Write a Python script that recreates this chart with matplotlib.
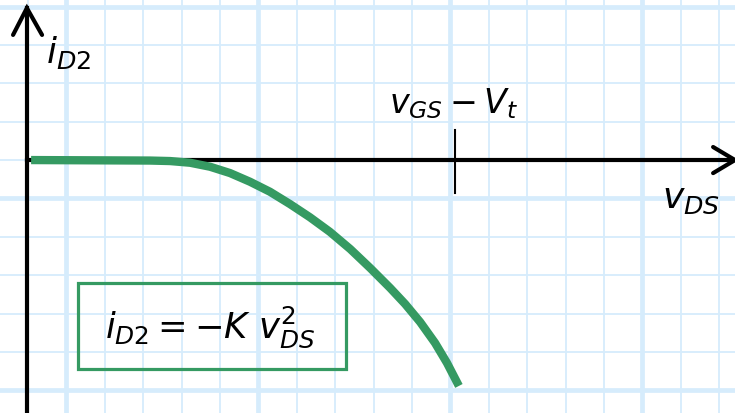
import matplotlib.pyplot as plt
import numpy as np

plt.rcParams['mathtext.fontset'] = 'dejavusans'

# curve, in grid cells (origin at the axes crossing)
v_ds = [0.08, 3.18, 3.70, 4.22, 4.74, 5.26, 5.78, 6.30, 6.82, 7.34,
        7.86, 8.39, 8.91, 9.43, 9.82, 10.21, 10.60, 10.91, 11.22]
i_d2 = [0.0, -0.013, -0.026, -0.070, -0.174, -0.339, -0.565, -0.826,
        -1.146, -1.490, -1.870, -2.318, -2.813, -3.333, -3.750, -4.219,
        -4.766, -5.286, -5.885]

v_knee = 11.12  # marked value vGS - Vt on the axis

green = '#359a62'
grid_col = '#d6ecfc'

fig = plt.figure(figsize=(7.35, 4.13), dpi=100)
ax = fig.add_axes([0, 0, 1, 1])
ax.set_xlim(-0.73, 18.41)
ax.set_ylim(-6.59, 4.17)
ax.axis('off')

# graph paper
for gx in range(0, 19):
    lw = 3.4 if (gx - 1) % 5 == 0 else 1.3
    ax.axvline(gx, color=grid_col, lw=lw, zorder=0)
for gy in range(-6, 5):
    lw = 3.4 if (gy + 1) % 5 == 0 else 1.3
    ax.axhline(gy, color=grid_col, lw=lw, zorder=0)

# axes with open arrow heads
ax.plot([-0.03, -0.03], [-6.7, 3.96], color='black', lw=3, zorder=2)
ax.plot([-0.39, -0.03, 0.365], [3.26, 3.96, 3.26], color='black', lw=3,
        solid_capstyle='round', solid_joinstyle='miter', zorder=2)
ax.plot([-0.03, 18.41], [0, 0], color='black', lw=3, zorder=2)
ax.plot([17.84, 18.41, 17.84], [0.34, 0, -0.34], color='black', lw=3,
        solid_capstyle='round', solid_joinstyle='miter', zorder=2)

# tick at vGS - Vt
ax.plot([v_knee, v_knee], [0.78, -0.86], color='black', lw=1.5, zorder=2)

# the curve
ax.plot(v_ds, i_d2, color=green, lw=6, solid_capstyle='butt',
        solid_joinstyle='round', zorder=3)

# labels
ax.text(0.47, 2.53, r'$i_{D2}$', fontsize=26, va='baseline', ha='left')
ax.text(9.4, 1.22, r'$v_{GS} -V_t$', fontsize=24, va='baseline', ha='left')
ax.text(16.51, -1.25, r'$v_{DS}$', fontsize=26, va='baseline', ha='left')

# boxed equation
ax.add_patch(plt.Rectangle((1.30, -5.44), 6.98, 2.24, fill=False,
                           edgecolor=green, lw=2.3, zorder=3))
ax.text(2.0, -4.64, r'$i_{D2} = -K\ v_{DS}^{2}$', fontsize=25.5,
        va='baseline', ha='left', zorder=4)

fig.savefig('out.png', dpi=100)
